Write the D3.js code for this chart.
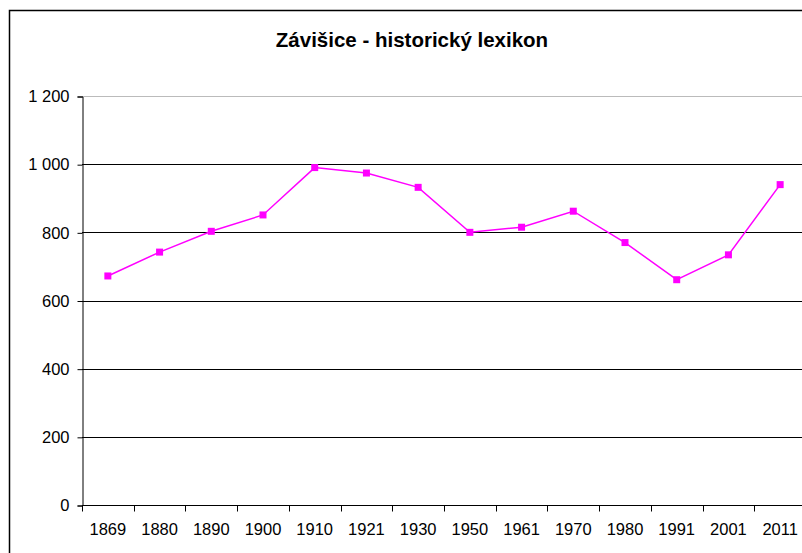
<!DOCTYPE html>
<html>
<head>
<meta charset="utf-8">
<script src="https://cdn.jsdelivr.net/npm/d3@7"></script>
<style>
  body { margin: 0; background: #fff; }
  svg { display: block; font-family: "Liberation Sans", Arial, sans-serif; }
</style>
</head>
<body>
<script>
// population by census year
var years = ['1869', '1880', '1890', '1900', '1910', '1921', '1930', '1950', '1961', '1970', '1980', '1991', '2001', '2011'];
var population = [672, 742, 803, 851, 990, 974, 932, 800, 815, 862, 770, 661, 734, 940];
var yTicks = [0, 200, 400, 600, 800, 1000, 1200];
var title = 'Závišice - historický lexikon';

var width = 802, height = 553;
var svg = d3.select('body').append('svg')
  .attr('width', width)
  .attr('height', height);

// outer chart frame (runs off the right and bottom edges)
svg.append('rect')
  .attr('x', 9.5).attr('y', 10.5)
  .attr('width', 820).attr('height', 600)
  .attr('fill', 'none')
  .attr('stroke', '#000')
  .attr('stroke-width', 1.5);

svg.append('text')
  .attr('x', 412).attr('y', 47)
  .attr('text-anchor', 'middle')
  .attr('font-size', 20.5)
  .attr('font-weight', 'bold')
  .text(title);

var plot = {left: 82, right: 806, top: 96, bottom: 505};

var xScale = d3.scaleBand()
  .domain(years)
  .range([plot.left, plot.right]);
var yScale = d3.scaleLinear()
  .domain([0, 1200])
  .range([plot.bottom, plot.top]);

// horizontal gridlines
svg.append('g')
  .selectAll('line')
  .data(yTicks.filter(d => d > 0))
  .enter().append('line')
  .attr('x1', plot.left).attr('x2', plot.right)
  .attr('y1', d => Math.round(yScale(d)) + 0.5)
  .attr('y2', d => Math.round(yScale(d)) + 0.5)
  .attr('stroke', d => d == 1200 ? '#bbb' : '#000')
  .attr('stroke-width', 1);

// y axis
var yAxis = d3.axisLeft(yScale)
  .tickValues(yTicks)
  .tickSize(5)
  .tickPadding(8)
  .tickFormat(d => d3.format(',')(d).replace(',', ' '));
var gy = svg.append('g')
  .attr('transform', 'translate(' + (plot.left + 0.5) + ',0.5)')
  .call(yAxis);
gy.select('.domain').attr('stroke', '#000');
gy.selectAll('.tick line').attr('stroke', '#000');
gy.selectAll('.tick text')
  .attr('font-size', 16.5)
  .attr('font-family', '"Liberation Sans", Arial, sans-serif')
  .attr('fill', '#000');

// x axis: ticks between categories
var gx = svg.append('g')
  .attr('transform', 'translate(0,' + (plot.bottom + 0.5) + ')');
gx.append('line')
  .attr('x1', plot.left).attr('x2', plot.right)
  .attr('stroke', '#000');
var edges = years.map(d => xScale(d)).concat([plot.right]);
gx.selectAll('line.tk')
  .data(edges)
  .enter().append('line')
  .attr('class', 'tk')
  .attr('x1', d => Math.round(d) + 0.5).attr('x2', d => Math.round(d) + 0.5)
  .attr('y1', 0).attr('y2', 6)
  .attr('stroke', '#000');
gx.selectAll('text')
  .data(years)
  .enter().append('text')
  .attr('x', d => xScale(d) + xScale.bandwidth() / 2)
  .attr('y', 29)
  .attr('text-anchor', 'middle')
  .attr('font-size', 16.5)
  .text(d => d);

// series
var pts = years.map((d, i) => [xScale(d) + xScale.bandwidth() / 2, yScale(population[i])]);
svg.append('path')
  .attr('d', d3.line()(pts))
  .attr('fill', 'none')
  .attr('stroke', '#ff00ff')
  .attr('stroke-width', 1.5);
svg.selectAll('rect.marker')
  .data(pts)
  .enter().append('rect')
  .attr('class', 'marker')
  .attr('x', d => d[0] - 3.5)
  .attr('y', d => d[1] - 3.5)
  .attr('width', 7).attr('height', 7)
  .attr('fill', '#ff00ff');
</script>
</body>
</html>
